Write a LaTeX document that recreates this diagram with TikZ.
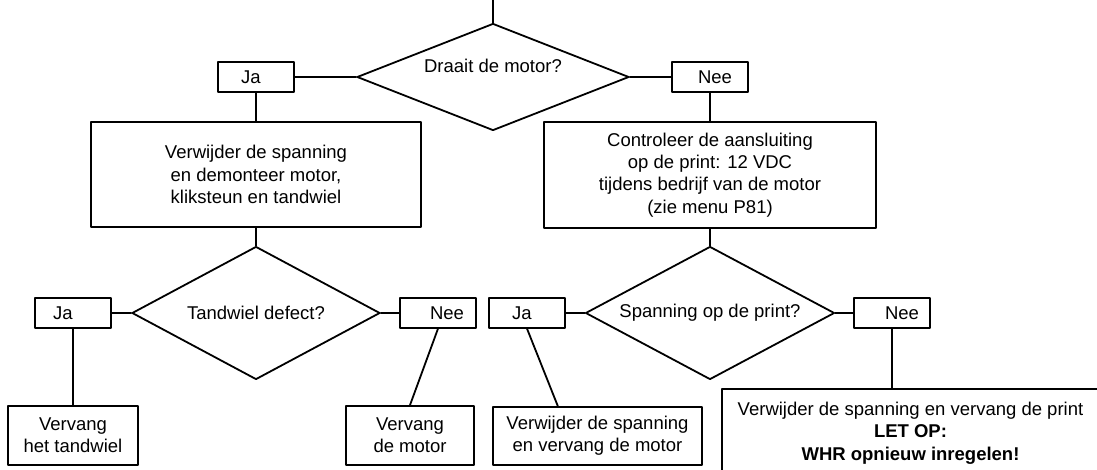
\documentclass[tikz,border=0pt]{standalone}
\usepackage{fontspec}
\setmainfont{Liberation Sans}
\usetikzlibrary{shapes.geometric}

\begin{document}
\begin{tikzpicture}[line cap=round,line join=round,line width=1.8pt,x=1pt,y=-1pt,
  every node/.style={font=\fontsize{18.5}{22.4}\selectfont,inner sep=0pt},
  answer/.style={draw,minimum width=76pt,minimum height=29.5pt},
  action/.style={draw,align=center},
  question/.style={draw,shape=diamond}]
\useasboundingbox (0,0) rectangle (1097,470);
\clip (0,0) rectangle (1097,470);
\coordinate (start) at (493,0);
\node[question,aspect=2.54,minimum width=272pt,minimum height=107pt] (q1) at (493,77) {};
\node (q1txt) at (493,66) {Draait de motor?};
\node[answer] (ja1) at (256,77) {Ja\hspace*{10pt}};
\node[answer] (nee1) at (710,77) {\hspace*{10pt}Nee};
\node[action,minimum width=330pt,minimum height=105pt] (doe1) at (256,174.5) {Verwijder de spanning\\en demonteer motor,\\kliksteun en tandwiel};
\node[action,minimum width=332pt,minimum height=106pt] (doe2) at (710,175) {Controleer de aansluiting\\op de print: 12 VDC\\tijdens bedrijf van de motor\\(zie menu P81)};
\node[question,aspect=1.86,minimum width=248pt,minimum height=133pt] (q2) at (256,313) {Tandwiel defect?};
\node[question,aspect=1.87,minimum width=249pt,minimum height=133pt] (q3) at (710,313) {Spanning op de print?};
\node[answer] (ja2) at (73,313) {Ja\hspace*{20pt}};
\node[answer] (nee2) at (438,313) {\hspace*{18pt}Nee};
\node[answer] (ja3) at (527,313) {Ja\hspace*{10pt}};
\node[answer] (nee3) at (892,313) {\hspace*{20pt}Nee};
\node[action,minimum width=130pt,minimum height=59pt] (fix1) at (73,435.5) {Vervang\\het tandwiel};
\node[action,minimum width=128pt,minimum height=59pt] (fix2) at (410,435.5) {Vervang\\de motor};
\node[action,minimum width=209pt,minimum height=58pt] (fix3) at (597.5,436) {Verwijder de spanning\\en vervang de motor};
\node[action,minimum width=377pt,minimum height=88pt] (fix4) at (910.5,433) {Verwijder de spanning en vervang de print\\\textbf{LET OP:}\\\textbf{WHR opnieuw inregelen!}};
\draw (start) -- (q1.north);
\draw (q1.west) -- (ja1.east);
\draw (q1.east) -- (nee1.west);
\draw (ja1.south) -- (doe1.north);
\draw (nee1.south) -- (doe2.north);
\draw (doe1.south) -- (q2.north);
\draw (doe2.south) -- (q3.north);
\draw (q2.west) -- (ja2.east);
\draw (q2.east) -- (nee2.west);
\draw (q3.west) -- (ja3.east);
\draw (q3.east) -- (nee3.west);
\draw (ja2.south) -- (fix1.north);
\draw (nee2.south) -- (fix2.north);
\draw (ja3.south) -- (fix3.143.7);
\draw (nee3.south) -- (nee3.south |- fix4.north);
\end{tikzpicture}
\end{document}
